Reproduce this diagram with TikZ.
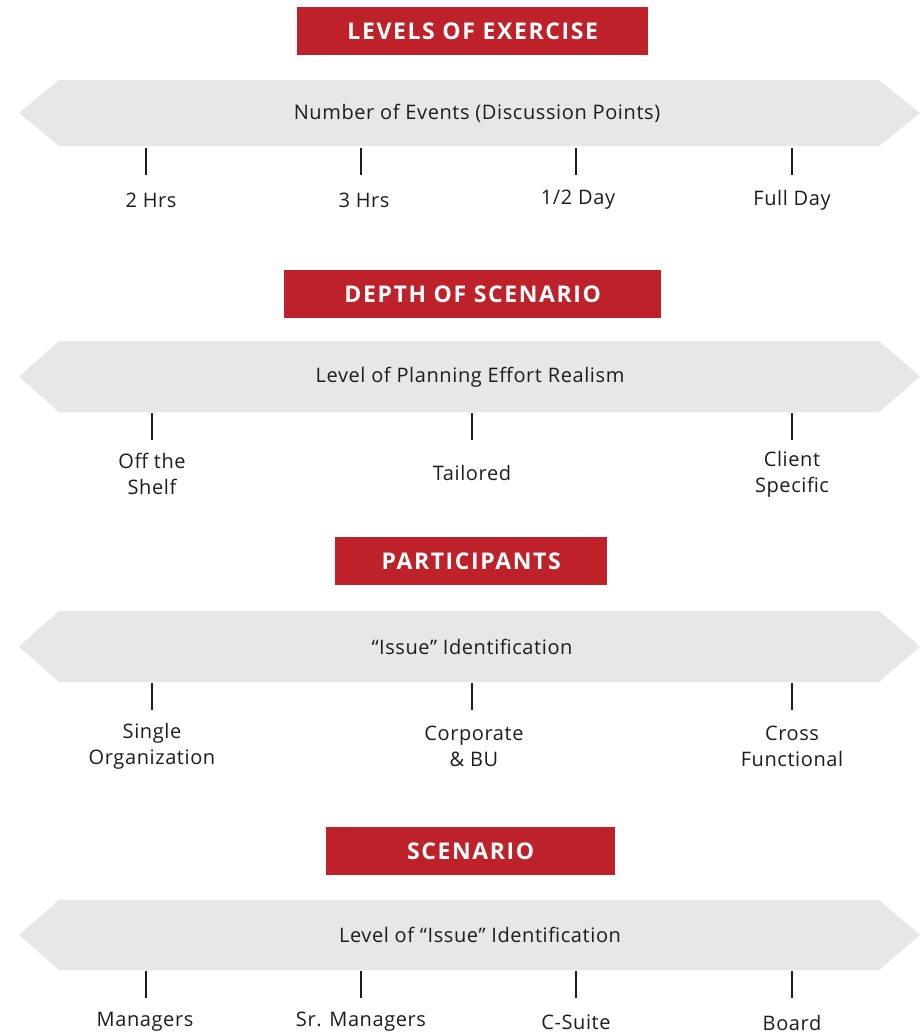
\documentclass[tikz,border=0pt]{standalone}
\usepackage{fontspec}
\setmainfont{Open Sans}
\newfontfamily\titlefont[LetterSpace=7]{Open Sans}
\newfontfamily\bodyfont[LetterSpace=3]{Open Sans}
\definecolor{bannerred}{HTML}{BD2129}
\definecolor{bandgray}{HTML}{E6E7E7}
\definecolor{inktext}{HTML}{1E1C1D}
\tikzset{
  title/.style={fill=bannerred, text=white, font=\titlefont\bfseries\fontsize{23}{26}\selectfont, inner sep=0pt, anchor=north west},
  bandtext/.style={text=inktext, font=\bodyfont\fontsize{20}{22}\selectfont},
  lbl/.style={text=inktext, font=\bodyfont\fontsize{20}{26}\selectfont, align=center},
  tickline/.style={line width=2.6pt, draw=inktext},
}
\newcommand{\band}[3]{% name, top y, bottom y
  \fill[bandgray] (19,{-(#2+#3)/2}) -- (59,-#2) -- (879,-#2) -- (920,{-(#2+#3)/2}) -- (879,-#3) -- (59,-#3) -- cycle;
}
\begin{document}
\begin{tikzpicture}[x=1pt,y=1pt]
\useasboundingbox (0,0) rectangle (922,-1034);
\fill[white] (0,0) rectangle (922,-1034);

% Section 1
\node[title, minimum width=351pt, minimum height=48pt] (t1) at (297,-7) {LEVELS OF EXERCISE};
\band{b1}{80}{146}
\node[bandtext] (b1) at (477,-113) {Number of Events (Discussion Points)};
\foreach \x/\n in {146/a, 361/b, 576/c, 792/d}{
  \coordinate (s1\n top) at (\x,-148);
  \coordinate (s1\n bot) at (\x,-175);
  \draw[tickline] (s1\n top) -- (s1\n bot);
}
\node[lbl] (l1a) at (151,-200) {2 Hrs};
\node[lbl] (l1b) at (364,-200) {3 Hrs};
\node[lbl] (l1c) at (578,-200) {1/2 Day};
\node[lbl] (l1d) at (792,-200) {Full Day};

% Section 2
\node[title, minimum width=377pt, minimum height=48pt] (t2) at (284,-270) {DEPTH OF SCENARIO};
\band{b2}{341}{412}
\node[bandtext] (b2) at (470,-377) {Level of Planning Effort Realism};
\foreach \x/\n in {152/a, 472/b, 792/c}{
  \coordinate (s2\n top) at (\x,-413);
  \coordinate (s2\n bot) at (\x,-440);
  \draw[tickline] (s2\n top) -- (s2\n bot);
}
\node[lbl] (l2a) at (152,-474) {Off the\\Shelf};
\node[lbl] (l2b) at (472,-473) {Tailored};
\node[lbl] (l2c) at (792,-474) {Client\\Specific};

% Section 3
\node[title, minimum width=272pt, minimum height=48pt] (t3) at (335,-537) {PARTICIPANTS};
\band{b3}{611}{682}
\node[bandtext] (b3) at (472,-647) {“Issue” Identification};
\foreach \x/\n in {152/a, 472/b, 792/c}{
  \coordinate (s3\n top) at (\x,-683);
  \coordinate (s3\n bot) at (\x,-710);
  \draw[tickline] (s3\n top) -- (s3\n bot);
}
\node[lbl] (l3a) at (152,-746) {Single\\Organization};
\node[lbl] (l3b) at (474,-746) {Corporate\\\& BU};
\node[lbl] (l3c) at (792,-746) {Cross\\Functional};

% Section 4
\node[title, minimum width=289pt, minimum height=48pt] (t4) at (326,-827) {SCENARIO};
\band{b4}{900}{970}
\node[bandtext] (b4) at (480,-935) {Level of “Issue” Identification};
\foreach \x/\n in {146/a, 361/b, 576/c, 792/d}{
  \coordinate (s4\n top) at (\x,-971);
  \coordinate (s4\n bot) at (\x,-998);
  \draw[tickline] (s4\n top) -- (s4\n bot);
}
\node[lbl] (l4a) at (145,-1022) {Managers};
\node[lbl] (l4b) at (361,-1022) {Sr. Managers};
\node[lbl] (l4c) at (576,-1022) {C-Suite};
\node[lbl] (l4d) at (792,-1023) {Board};
\end{tikzpicture}
\end{document}
